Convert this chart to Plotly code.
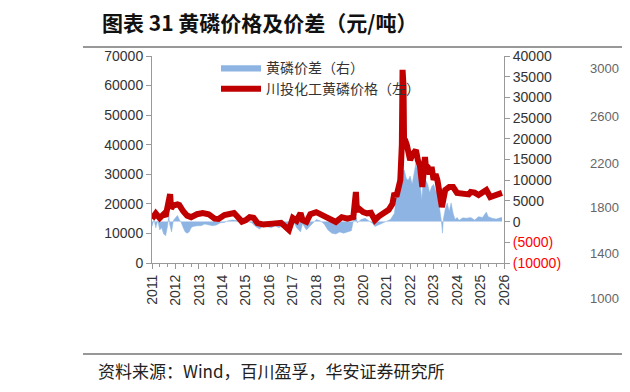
import plotly.graph_objects as go

# ---- data ----
price_dates = ["2011-01-01","2011-03-01","2011-05-01","2011-07-01","2011-08-01","2011-09-15","2011-10-10","2011-10-25",
    "2011-12-01","2012-02-01","2012-03-01","2012-05-01","2012-07-01","2012-09-01","2012-12-01","2013-03-01",
    "2013-06-01","2013-09-01","2013-11-01","2014-02-01","2014-05-01","2014-07-01","2014-09-01","2014-11-01",
    "2015-01-01","2015-03-01","2015-05-01","2015-07-01","2015-10-01","2016-01-01","2016-04-01","2016-07-01",
    "2016-09-01","2016-11-01","2017-01-01","2017-03-01","2017-05-01","2017-06-01","2017-08-01","2017-10-01",
    "2018-01-01","2018-03-01","2018-05-01","2018-08-01","2018-11-01","2019-02-01","2019-05-01","2019-08-01",
    "2019-08-20","2019-09-10","2019-09-25","2019-11-01","2020-01-01","2020-03-01","2020-05-01","2020-07-01",
    "2020-09-01","2020-12-01","2021-02-01","2021-04-01","2021-05-01","2021-06-01","2021-07-01","2021-08-01",
    "2021-08-25","2021-09-05","2021-09-20","2021-09-28","2021-10-15","2021-11-10","2021-12-01","2022-01-01",
    "2022-02-01","2022-04-01","2022-05-01","2022-06-01","2022-07-10","2022-08-01","2022-08-20","2022-09-01",
    "2022-10-01","2022-11-01","2022-12-01","2023-01-01","2023-02-01","2023-03-01","2023-04-01","2023-05-10",
    "2023-06-01","2023-07-01","2023-09-01","2023-11-01","2024-01-01","2024-03-01","2024-05-01","2024-07-01",
    "2024-08-01","2024-10-01","2024-12-01","2025-02-01","2025-04-01","2025-06-01","2025-08-01","2025-10-01",
    "2025-12-01"]
price_values = [15000,16800,15200,16500,15800,23000,23300,18500,
    19500,19800,19600,17500,16000,15500,16500,16900,
    16500,15000,14900,16200,16500,16900,15500,14000,
    14500,15500,15300,13500,13000,13000,13400,13600,
    12500,11200,15200,14300,16900,14500,13900,16500,
    17200,16500,16200,15200,13900,15500,15000,15500,
    24000,24000,18000,18300,17200,16800,17000,14500,
    15800,16900,18000,20000,23700,22500,25700,28000,
    40000,65300,60000,42000,41600,40000,38200,34800,
    36500,38200,34800,33000,25700,30000,35800,33000,
    32500,30000,32500,28100,30000,28100,25000,18900,
    21300,24700,25700,25700,23700,23500,23000,23200,
    24000,23800,23000,24000,24700,22300,22800,23000,
    23700]

spread_dates = ["2011-01-01","2011-02-01","2011-03-01","2011-04-01","2011-05-01","2011-06-01","2011-07-01","2011-08-01",
    "2011-09-01","2011-09-20","2011-10-01","2011-11-01","2011-12-01","2012-01-01","2012-02-01","2012-03-01",
    "2012-04-01","2012-05-01","2012-06-01","2012-07-01","2012-08-01","2012-09-01","2012-10-01","2012-12-01",
    "2013-02-01","2013-04-01","2013-06-01","2013-08-01","2013-10-01","2013-12-01","2014-02-01","2014-04-01",
    "2014-06-01","2014-08-01","2014-10-01","2014-12-01","2015-02-01","2015-04-01","2015-06-01","2015-08-01",
    "2015-10-01","2015-12-01","2016-02-01","2016-04-01","2016-06-01","2016-08-01","2016-10-01","2016-11-01",
    "2017-01-01","2017-03-01","2017-05-01","2017-06-01","2017-08-01","2017-10-01","2018-01-01","2018-03-01",
    "2018-05-01","2018-07-01","2018-09-01","2018-11-01","2019-01-01","2019-03-01","2019-05-01","2019-07-01",
    "2019-08-20","2019-09-20","2019-10-01","2019-12-01","2020-02-01","2020-04-01","2020-06-01","2020-07-01",
    "2020-09-01","2020-11-01","2021-01-01","2021-03-01","2021-05-01","2021-06-01","2021-07-01","2021-08-01",
    "2021-09-01","2021-10-01","2021-11-01","2021-12-01","2022-01-01","2022-02-01","2022-03-01","2022-04-01",
    "2022-05-01","2022-06-01","2022-07-01","2022-07-20","2022-08-01","2022-09-01","2022-10-01","2022-11-01",
    "2022-12-01","2023-01-01","2023-02-01","2023-03-01","2023-04-01","2023-05-01","2023-05-20","2023-06-01",
    "2023-07-01","2023-08-01","2023-09-01","2023-10-01","2023-11-01","2023-12-01","2024-01-01","2024-02-01",
    "2024-04-01","2024-06-01","2024-08-01","2024-10-01","2024-12-01","2025-02-01","2025-04-01","2025-05-01",
    "2025-07-01","2025-09-01","2025-11-01","2025-12-01"]
spread_values = [-1200,500,-1500,200,-2000,-1500,-3000,-3400,
    -1000,1800,-500,-2500,300,1000,1500,500,
    -300,-1500,-2500,-2800,-2500,-1500,-1200,-1000,
    -1000,-600,-800,-1000,-800,-300,-200,200,
    400,300,-200,-500,0,-300,-1200,-1800,
    -1000,-1200,-1500,-1000,-1500,-800,-2000,-2500,
    300,-1500,-2500,-500,-2000,-1000,500,200,
    -500,-2000,-2800,-3000,-2500,-2800,-2500,-2200,
    1600,800,-300,500,800,200,-500,-1200,
    -800,-300,0,500,2000,6000,10800,10000,
    11700,12500,10500,10000,11000,9000,12000,14100,
    12000,10000,5200,9000,11700,10000,9000,7000,
    8400,9000,7500,6900,4000,300,-2800,500,
    3000,4500,2500,4500,2000,500,1000,300,
    900,800,1000,400,1200,1000,2300,1200,
    800,600,900,1000]

year_ticks = [f"{y}-01-01" for y in range(2011, 2027)]
year_labels = [str(y) for y in range(2011, 2027)]
left_ticks = list(range(0, 70001, 10000))
left_labels = [str(v) for v in left_ticks]
right_ticks = list(range(-10000, 40001, 5000))
right_labels = [f"<span style='color:#FF0000'>({-v})</span>" if v < 0 else str(v) for v in right_ticks]
side_labels = ["3000", "2600", "2200", "1800", "1400", "1000"]

title_text = "<b>图表 31 黄磷价格及价差（元/吨）</b>"
source_text = "资料来源：Wind，百川盈孚，华安证券研究所"

FONT = "Liberation Sans, Arial, Noto Sans CJK SC"
CJK = "Noto Sans CJK SC, Liberation Sans"

fig = go.Figure()
fig.add_trace(go.Scatter(
    x=spread_dates, y=spread_values, name="黄磷价差（右）", mode="lines",
    fill="tozeroy", fillcolor="#8DB4E2", line=dict(color="#8DB4E2", width=0.5),
    yaxis="y"))
fig.add_trace(go.Scatter(
    x=price_dates, y=price_values, name="川投化工黄磷价格（左）", mode="lines",
    line=dict(color="#C00000", width=6), yaxis="y2"))

# page body has an 8px default margin: lay out in reference pixels, shifted by OFF
OFF = 8
W, H = 630 - 2 * OFF, 392 - 2 * OFF
L, R, T, B = 152 - OFF, 504 - OFF, 56 - OFF, 263 - OFF
def px(x): return (x - OFF - L) / (R - L)
def py(y): return (B - (y - OFF)) / (B - T)

axis_common = dict(showline=True, linecolor="#999999", linewidth=1,
                   ticks="outside", ticklen=5, tickcolor="#999999",
                   showgrid=False, zeroline=False, automargin=False,
                   tickfont=dict(family=FONT, size=14, color="#333333"))

fig.update_layout(
    width=W, height=H,
    margin=dict(l=L, r=W - R, t=T, b=H - B, autoexpand=False),
    paper_bgcolor="white", plot_bgcolor="white",
    font=dict(family=FONT, size=14, color="#333333"),
    showlegend=True,
    legend=dict(x=px(216), y=py(52), xanchor="left", yanchor="top",
                bgcolor="rgba(0,0,0,0)", font=dict(family=CJK, size=14, color="#333333"),
                tracegroupgap=0, itemwidth=40),
    xaxis=dict(type="date", range=["2011-01-01", "2026-01-01"],
               tickvals=year_ticks, ticktext=year_labels, tickangle=-90,
               minor=dict(dtick="M4", ticks="outside", ticklen=3, tickcolor="#999999"),
               **axis_common),
    yaxis=dict(side="right", range=[-10000, 40000],
               tickvals=right_ticks, ticktext=right_labels, **axis_common),
    yaxis2=dict(side="left", overlaying="y", range=[0, 70000],
                tickvals=left_ticks, ticktext=left_labels, **axis_common),
)

shapes = [
    dict(type="line", xref="paper", yref="paper", x0=px(83), x1=px(640), y0=py(47), y1=py(47),
         line=dict(color="#333333", width=1.2)),
    dict(type="line", xref="paper", yref="paper", x0=px(83), x1=px(640), y0=py(354), y1=py(354),
         line=dict(color="#333333", width=1.2)),
]
fig.update_layout(shapes=shapes)

ann = [
    dict(text=title_text, x=px(100), y=py(22), xref="paper", yref="paper",
         xanchor="left", yanchor="middle", showarrow=False,
         font=dict(family=CJK, size=21, color="#111111")),
    dict(text=source_text, x=px(96), y=py(370), xref="paper", yref="paper",
         xanchor="left", yanchor="middle", showarrow=False,
         font=dict(family=CJK, size=17, color="#222222")),
]
for lab, yy in zip(side_labels, [68, 116, 163, 208, 253, 298]):
    ann.append(dict(text=lab, x=px(621), y=py(yy), xref="paper", yref="paper",
                    xanchor="right", yanchor="middle", showarrow=False,
                    font=dict(family=FONT, size=13, color="#666666")))
fig.update_layout(annotations=ann)

fig.write_html("out.html")
